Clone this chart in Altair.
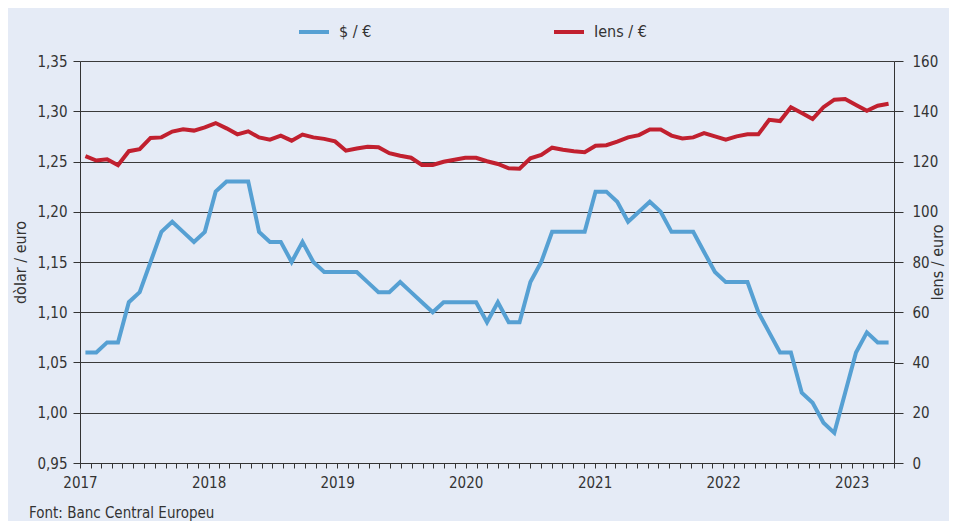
import altair as alt
import pandas as pd

# ---------------- data (monthly averages, Jan 2017 - Mar 2023) ----------------
months = [f"{y}-{m:02d}" for y in range(2017, 2024) for m in range(1, 13)][:75]

usd_per_eur = [
    1.06, 1.06, 1.07, 1.07, 1.11, 1.12, 1.15, 1.18, 1.19, 1.18, 1.17, 1.18,  # 2017
    1.22, 1.23, 1.23, 1.23, 1.18, 1.17, 1.17, 1.15, 1.17, 1.15, 1.14, 1.14,  # 2018
    1.14, 1.14, 1.13, 1.12, 1.12, 1.13, 1.12, 1.11, 1.10, 1.11, 1.11, 1.11,  # 2019
    1.11, 1.09, 1.11, 1.09, 1.09, 1.13, 1.15, 1.18, 1.18, 1.18, 1.18, 1.22,  # 2020
    1.22, 1.21, 1.19, 1.20, 1.21, 1.20, 1.18, 1.18, 1.18, 1.16, 1.14, 1.13,  # 2021
    1.13, 1.13, 1.10, 1.08, 1.06, 1.06, 1.02, 1.01, 0.99, 0.98, 1.02, 1.06,  # 2022
    1.08, 1.07, 1.07,                                                        # 2023
]

jpy_per_eur = [
    122.1, 120.4, 120.9, 118.5, 124.1, 124.9, 129.4, 129.6, 131.9, 132.8, 132.3, 133.6,  # 2017
    135.3, 133.2, 130.8, 132.0, 129.6, 128.7, 130.3, 128.3, 130.7, 129.6, 129.0, 128.0,  # 2018
    124.3, 125.2, 125.9, 125.7, 123.3, 122.3, 121.5, 118.6, 118.6, 119.9, 120.7, 121.5,  # 2019
    121.5, 120.1, 119.0, 117.3, 117.1, 121.3, 122.6, 125.5, 124.7, 124.1, 123.7, 126.3,  # 2020
    126.5, 127.9, 129.6, 130.5, 132.7, 132.7, 130.3, 129.2, 129.6, 131.3, 130.0, 128.7,  # 2021
    130.0, 130.8, 130.8, 136.6, 136.1, 141.6, 139.3, 136.9, 141.6, 144.6, 144.9, 142.5,  # 2022
    140.2, 142.2, 143.0,                                                                 # 2023
]

series_names = ["$ / €", "Iens / €"]
left_ticks = [0.95, 1.00, 1.05, 1.10, 1.15, 1.20, 1.25, 1.30, 1.35]
right_ticks = [0, 20, 40, 60, 80, 100, 120, 140, 160]
axis_start = (2017, 1)
axis_months = 77  # monthly ticks Jan 2017 .. May 2023

# ---------------- styling ----------------
BLUE = "#56A0D3"
RED = "#C1202F"
BG = "#E5EBF6"
INK = "#333333"
FONT = "Liberation Sans Narrow, DejaVu Sans Condensed, Liberation Sans, sans-serif"

W, H = 814, 402

df_usd = pd.DataFrame({"month": months, "value": usd_per_eur, "series": series_names[0]})
df_jpy = pd.DataFrame({"month": months, "value": jpy_per_eur, "series": series_names[1]})

color = alt.Color(
    "series:N",
    scale=alt.Scale(domain=series_names, range=[BLUE, RED]),
    legend=alt.Legend(
        orient="none", legendX=217, legendY=-46, direction="horizontal",
        title=None, symbolType="stroke", symbolStrokeWidth=4, symbolSize=900,
        labelFontSize=16, labelFont=FONT, labelColor=INK, labelOffset=8,
        columnPadding=174, padding=0,
    ),
)

x_cat = alt.X("month:O", scale=alt.Scale(type="point", padding=0.5), axis=None)

usd_line = alt.Chart(df_usd).mark_line(strokeWidth=4).encode(
    x=x_cat,
    y=alt.Y(
        "value:Q",
        scale=alt.Scale(domain=[0.95, 1.35], nice=False, zero=False),
        axis=alt.Axis(
            values=left_ticks, title="dòlar / euro", orient="left",
            labelExpr="replace(format(datum.value, '.2f'), '.', ',')",
            grid=True, gridColor="#3a3a3a", gridWidth=1,
            tickSize=7, labelPadding=6, titlePadding=8,
            titleAngle=270,
        ),
    ),
    color=color,
)

jpy_line = alt.Chart(df_jpy).mark_line(strokeWidth=4).encode(
    x=x_cat,
    y=alt.Y(
        "value:Q",
        scale=alt.Scale(domain=[0, 160], nice=False),
        axis=alt.Axis(
            values=right_ticks, title="Iens / euro", orient="right",
            grid=False, tickSize=9, labelPadding=9, titlePadding=8,
            titleAngle=270,
        ),
    ),
    color=color,
)

tick_dates = []
for k in range(axis_months):
    y0 = axis_start[0] + (axis_start[1] - 1 + k) // 12
    m0 = (axis_start[1] - 1 + k) % 12 + 1
    tick_dates.append(alt.DateTime(year=y0, month=m0, date=1, utc=True))

df_axis = pd.DataFrame({"d": ["2017-01-01", "2023-05-01"]})
time_axis = alt.Chart(df_axis).mark_point(opacity=0).encode(
    x=alt.X(
        "d:T",
        scale=alt.Scale(type="utc", domain=[tick_dates[0], tick_dates[-1]]),
        axis=alt.Axis(
            orient="bottom", title=None, values=tick_dates,
            labelExpr="utcmonth(datum.value) == 0 ? utcFormat(datum.value, '%Y') : ''",
            labelOverlap=False, labelFlush=False, tickSize=5, labelPadding=7,
            grid=False,
        ),
    )
)

chart = (
    alt.layer(usd_line, jpy_line, time_axis)
    .resolve_scale(x="independent", y="independent", color="shared")
    .properties(
        width=W, height=H,
        autosize=alt.AutoSizeParams(type="none"),
        padding={"left": 72, "top": 53, "right": 55, "bottom": 58},
        background=BG,
        title=alt.TitleParams(
            "Font: Banc Central Europeu", orient="bottom", anchor="start",
            frame="group", dx=-51, offset=16, fontSize=15, fontWeight="normal",
            font=FONT, color=INK, baseline="top",
        ),
    )
    .configure_view(stroke=None, fill=BG)
    .configure_axis(
        labelFont=FONT, labelFontSize=15, labelColor=INK,
        titleFont=FONT, titleFontSize=16, titleFontWeight="normal", titleColor=INK,
        domainColor=INK, domainWidth=1, tickColor=INK, tickWidth=1,
    )
)

chart.save("out.html", embed_options={"renderer": "svg", "actions": False})
